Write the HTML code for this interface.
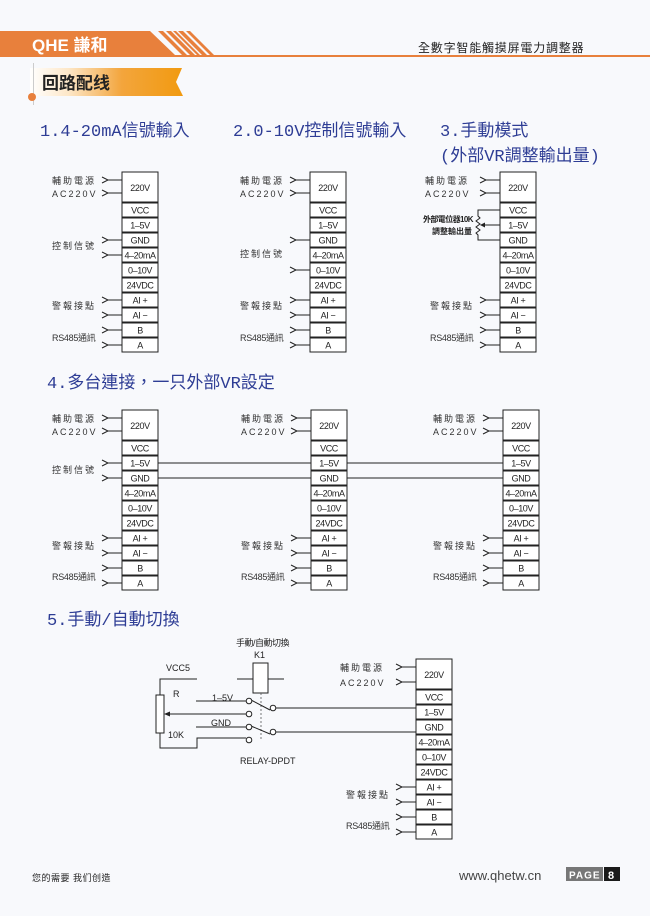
<!DOCTYPE html>
<html><head><meta charset="utf-8">
<style>
html,body{margin:0;padding:0;background:#f8f9fc;}
svg{display:block;}
.t{font-family:"Liberation Sans","Noto Sans CJK TC",sans-serif;}
.b rect{fill:#fff;stroke:#222;stroke-width:1;}
.b text{font-family:"Liberation Sans Narrow","Liberation Sans",sans-serif;font-size:9px;text-anchor:middle;fill:#222;letter-spacing:-0.4px;}
.l{font-family:"Liberation Sans","Noto Sans CJK TC",sans-serif;font-size:9px;fill:#333;letter-spacing:2px;}
.r{font-family:"Liberation Sans","Noto Sans CJK TC",sans-serif;font-size:9px;fill:#333;letter-spacing:-0.3px;}
.w{stroke:#222;stroke-width:1;fill:none;}
.h{font-family:"Liberation Mono","Noto Sans CJK TC",sans-serif;font-size:17px;fill:#2e3d95;}
</style></head><body>
<svg width="650" height="916" viewBox="0 0 650 916" xmlns="http://www.w3.org/2000/svg">
<defs>
<linearGradient id="rg" x1="0" x2="1"><stop offset="0" stop-color="#fff"/><stop offset="0.25" stop-color="#fde7c8"/><stop offset="0.6" stop-color="#f3a53c"/><stop offset="1" stop-color="#f19a10"/></linearGradient>
</defs>
<rect width="650" height="916" fill="#f8f9fc"/>
<polygon points="0,31 150,31 175,55 0,55" fill="#e8803c"/>
<polygon points="158,31 163,31 187,55 182,55" fill="#e8803c"/>
<polygon points="166,31 171,31 195,55 190,55" fill="#e8803c"/>
<polygon points="173,31 176,31 200,55 197,55" fill="#e8803c"/>
<polygon points="178,31 183,31 207,55 202,55" fill="#e8803c"/>
<polygon points="186,31 190,31 214,55 210,55" fill="#e8803c"/>
<rect x="0" y="55" width="650" height="2" fill="#e8803c"/>
<text x="32" y="51" class="t" font-size="17" font-weight="bold" fill="#fff">QHE 謙和</text>
<text x="418" y="52" class="t" font-size="12" fill="#222" letter-spacing="0.8">全數字智能觸摸屏電力調整器</text>
<polygon points="30,68 182,68 176,82 183,96 30,96" fill="url(#rg)"/>
<rect x="33" y="63" width="1" height="42" fill="#ccc"/>
<ellipse cx="32" cy="97" rx="4" ry="4" fill="#e8803c"/>
<text x="42" y="89" class="t" font-size="17" font-weight="bold" fill="#222">回路配线</text>
<text x="40" y="136" class="h">1.4-20mA信號輸入</text>
<text x="233" y="136" class="h">2.0-10V控制信號輸入</text>
<text x="440" y="136" class="h">3.手動模式</text>
<text x="440" y="161" class="h">(外部VR調整輸出量)</text>
<text x="47" y="388" class="h">4.多台連接，一只外部VR設定</text>
<text x="47" y="625" class="h">5.手動/自動切換</text>

<g transform="translate(122,172)">
<g class="b"><rect x="0" y="0" width="36" height="30"/><text x="18" y="19">220V</text>
<rect x="0" y="31" width="36" height="14"/><text x="18" y="41.5">VCC</text>
<rect x="0" y="46" width="36" height="14"/><text x="18" y="56.5">1–5V</text>
<rect x="0" y="61" width="36" height="14"/><text x="18" y="71.5">GND</text>
<rect x="0" y="76" width="36" height="14"/><text x="18" y="86.5">4–20mA</text>
<rect x="0" y="91" width="36" height="14"/><text x="18" y="101.5">0–10V</text>
<rect x="0" y="106" width="36" height="14"/><text x="18" y="116.5">24VDC</text>
<rect x="0" y="121" width="36" height="14"/><text x="18" y="131.5">AI +</text>
<rect x="0" y="136" width="36" height="14"/><text x="18" y="146.5">AI −</text>
<rect x="0" y="151" width="36" height="14"/><text x="18" y="161.5">B</text>
<rect x="0" y="166" width="36" height="14"/><text x="18" y="176.5">A</text></g>
<path class="w" d="M-20 5L-14 8L-20 11M-15 8H0M-20 18L-14 21L-20 24M-15 21H0M-20 65L-14 68L-20 71M-15 68H0M-20 80L-14 83L-20 86M-15 83H0M-20 125L-14 128L-20 131M-15 128H0M-20 140L-14 143L-20 146M-15 143H0M-20 155L-14 158L-20 161M-15 158H0M-20 170L-14 173L-20 176M-15 173H0"/>
<text x="-70" y="12" class="l">輔助電源</text><text x="-70" y="25" class="l">AC220V</text>
<text x="-70" y="77" class="l">控制信號</text><text x="-70" y="137" class="l">警報接點</text>
<text x="-70" y="169" class="r">RS485通訊</text>
</g>

<g transform="translate(310,172)">
<g class="b"><rect x="0" y="0" width="36" height="30"/><text x="18" y="19">220V</text>
<rect x="0" y="31" width="36" height="14"/><text x="18" y="41.5">VCC</text>
<rect x="0" y="46" width="36" height="14"/><text x="18" y="56.5">1–5V</text>
<rect x="0" y="61" width="36" height="14"/><text x="18" y="71.5">GND</text>
<rect x="0" y="76" width="36" height="14"/><text x="18" y="86.5">4–20mA</text>
<rect x="0" y="91" width="36" height="14"/><text x="18" y="101.5">0–10V</text>
<rect x="0" y="106" width="36" height="14"/><text x="18" y="116.5">24VDC</text>
<rect x="0" y="121" width="36" height="14"/><text x="18" y="131.5">AI +</text>
<rect x="0" y="136" width="36" height="14"/><text x="18" y="146.5">AI −</text>
<rect x="0" y="151" width="36" height="14"/><text x="18" y="161.5">B</text>
<rect x="0" y="166" width="36" height="14"/><text x="18" y="176.5">A</text></g>
<path class="w" d="M-20 5L-14 8L-20 11M-15 8H0M-20 18L-14 21L-20 24M-15 21H0M-20 65L-14 68L-20 71M-15 68H0M-20 95L-14 98L-20 101M-15 98H0M-20 125L-14 128L-20 131M-15 128H0M-20 140L-14 143L-20 146M-15 143H0M-20 155L-14 158L-20 161M-15 158H0M-20 170L-14 173L-20 176M-15 173H0"/>
<text x="-70" y="12" class="l">輔助電源</text><text x="-70" y="25" class="l">AC220V</text>
<text x="-70" y="85" class="l">控制信號</text><text x="-70" y="137" class="l">警報接點</text>
<text x="-70" y="169" class="r">RS485通訊</text>
</g>

<g transform="translate(500,172)">
<g class="b"><rect x="0" y="0" width="36" height="30"/><text x="18" y="19">220V</text>
<rect x="0" y="31" width="36" height="14"/><text x="18" y="41.5">VCC</text>
<rect x="0" y="46" width="36" height="14"/><text x="18" y="56.5">1–5V</text>
<rect x="0" y="61" width="36" height="14"/><text x="18" y="71.5">GND</text>
<rect x="0" y="76" width="36" height="14"/><text x="18" y="86.5">4–20mA</text>
<rect x="0" y="91" width="36" height="14"/><text x="18" y="101.5">0–10V</text>
<rect x="0" y="106" width="36" height="14"/><text x="18" y="116.5">24VDC</text>
<rect x="0" y="121" width="36" height="14"/><text x="18" y="131.5">AI +</text>
<rect x="0" y="136" width="36" height="14"/><text x="18" y="146.5">AI −</text>
<rect x="0" y="151" width="36" height="14"/><text x="18" y="161.5">B</text>
<rect x="0" y="166" width="36" height="14"/><text x="18" y="176.5">A</text></g>
<path class="w" d="M-20 5L-14 8L-20 11M-15 8H0M-20 18L-14 21L-20 24M-15 21H0M-20 125L-14 128L-20 131M-15 128H0M-20 140L-14 143L-20 146M-15 143H0M-20 155L-14 158L-20 161M-15 158H0M-20 170L-14 173L-20 176M-15 173H0"/>
<path class="w" d="M0 38H-22V44L-20 46L-24 49L-20 52L-24 55L-20 58L-24 61L-22 63V68H0M0 53H-18"/>
<path d="M-20 53L-15 50.5L-15 55.5Z" fill="#222"/>
<text x="-75" y="12" class="l">輔助電源</text><text x="-75" y="25" class="l">AC220V</text>
<text x="-77" y="50" class="t" font-size="8" fill="#222" font-weight="bold" style="letter-spacing:-0.6px">外部電位器10K</text>
<text x="-68" y="62" class="t" font-size="8" fill="#222" font-weight="bold">調整輸出量</text>
<text x="-70" y="137" class="l">警報接點</text>
<text x="-70" y="169" class="r">RS485通訊</text>
</g>

<g transform="translate(122,410)">
<g class="b"><rect x="0" y="0" width="36" height="30"/><text x="18" y="19">220V</text>
<rect x="0" y="31" width="36" height="14"/><text x="18" y="41.5">VCC</text>
<rect x="0" y="46" width="36" height="14"/><text x="18" y="56.5">1–5V</text>
<rect x="0" y="61" width="36" height="14"/><text x="18" y="71.5">GND</text>
<rect x="0" y="76" width="36" height="14"/><text x="18" y="86.5">4–20mA</text>
<rect x="0" y="91" width="36" height="14"/><text x="18" y="101.5">0–10V</text>
<rect x="0" y="106" width="36" height="14"/><text x="18" y="116.5">24VDC</text>
<rect x="0" y="121" width="36" height="14"/><text x="18" y="131.5">AI +</text>
<rect x="0" y="136" width="36" height="14"/><text x="18" y="146.5">AI −</text>
<rect x="0" y="151" width="36" height="14"/><text x="18" y="161.5">B</text>
<rect x="0" y="166" width="36" height="14"/><text x="18" y="176.5">A</text></g>
<path class="w" d="M-20 5L-14 8L-20 11M-15 8H0M-20 18L-14 21L-20 24M-15 21H0M-20 50L-14 53L-20 56M-15 53H0M-20 65L-14 68L-20 71M-15 68H0M-20 125L-14 128L-20 131M-15 128H0M-20 140L-14 143L-20 146M-15 143H0M-20 155L-14 158L-20 161M-15 158H0M-20 170L-14 173L-20 176M-15 173H0"/>
<text x="-70" y="12" class="l">輔助電源</text><text x="-70" y="25" class="l">AC220V</text>
<text x="-70" y="63" class="l">控制信號</text><text x="-70" y="139" class="l">警報接點</text>
<text x="-70" y="170" class="r">RS485通訊</text>
</g>
<g transform="translate(311,410)">
<g class="b"><rect x="0" y="0" width="36" height="30"/><text x="18" y="19">220V</text>
<rect x="0" y="31" width="36" height="14"/><text x="18" y="41.5">VCC</text>
<rect x="0" y="46" width="36" height="14"/><text x="18" y="56.5">1–5V</text>
<rect x="0" y="61" width="36" height="14"/><text x="18" y="71.5">GND</text>
<rect x="0" y="76" width="36" height="14"/><text x="18" y="86.5">4–20mA</text>
<rect x="0" y="91" width="36" height="14"/><text x="18" y="101.5">0–10V</text>
<rect x="0" y="106" width="36" height="14"/><text x="18" y="116.5">24VDC</text>
<rect x="0" y="121" width="36" height="14"/><text x="18" y="131.5">AI +</text>
<rect x="0" y="136" width="36" height="14"/><text x="18" y="146.5">AI −</text>
<rect x="0" y="151" width="36" height="14"/><text x="18" y="161.5">B</text>
<rect x="0" y="166" width="36" height="14"/><text x="18" y="176.5">A</text></g>
<path class="w" d="M-20 5L-14 8L-20 11M-15 8H0M-20 18L-14 21L-20 24M-15 21H0M-20 125L-14 128L-20 131M-15 128H0M-20 140L-14 143L-20 146M-15 143H0M-20 155L-14 158L-20 161M-15 158H0M-20 170L-14 173L-20 176M-15 173H0"/>
<text x="-70" y="12" class="l">輔助電源</text><text x="-70" y="25" class="l">AC220V</text>
<text x="-70" y="139" class="l">警報接點</text>
<text x="-70" y="170" class="r">RS485通訊</text>
</g>
<g transform="translate(503,410)">
<g class="b"><rect x="0" y="0" width="36" height="30"/><text x="18" y="19">220V</text>
<rect x="0" y="31" width="36" height="14"/><text x="18" y="41.5">VCC</text>
<rect x="0" y="46" width="36" height="14"/><text x="18" y="56.5">1–5V</text>
<rect x="0" y="61" width="36" height="14"/><text x="18" y="71.5">GND</text>
<rect x="0" y="76" width="36" height="14"/><text x="18" y="86.5">4–20mA</text>
<rect x="0" y="91" width="36" height="14"/><text x="18" y="101.5">0–10V</text>
<rect x="0" y="106" width="36" height="14"/><text x="18" y="116.5">24VDC</text>
<rect x="0" y="121" width="36" height="14"/><text x="18" y="131.5">AI +</text>
<rect x="0" y="136" width="36" height="14"/><text x="18" y="146.5">AI −</text>
<rect x="0" y="151" width="36" height="14"/><text x="18" y="161.5">B</text>
<rect x="0" y="166" width="36" height="14"/><text x="18" y="176.5">A</text></g>
<path class="w" d="M-20 5L-14 8L-20 11M-15 8H0M-20 18L-14 21L-20 24M-15 21H0M-20 125L-14 128L-20 131M-15 128H0M-20 140L-14 143L-20 146M-15 143H0M-20 155L-14 158L-20 161M-15 158H0M-20 170L-14 173L-20 176M-15 173H0"/>
<text x="-70" y="12" class="l">輔助電源</text><text x="-70" y="25" class="l">AC220V</text>
<text x="-70" y="139" class="l">警報接點</text>
<text x="-70" y="170" class="r">RS485通訊</text>
</g>
<path class="w" d="M158 463H311M158 478H311M347 463H503M347 478H503"/>

<g transform="translate(416,659)">
<g class="b"><rect x="0" y="0" width="36" height="30"/><text x="18" y="19">220V</text>
<rect x="0" y="31" width="36" height="14"/><text x="18" y="41.5">VCC</text>
<rect x="0" y="46" width="36" height="14"/><text x="18" y="56.5">1–5V</text>
<rect x="0" y="61" width="36" height="14"/><text x="18" y="71.5">GND</text>
<rect x="0" y="76" width="36" height="14"/><text x="18" y="86.5">4–20mA</text>
<rect x="0" y="91" width="36" height="14"/><text x="18" y="101.5">0–10V</text>
<rect x="0" y="106" width="36" height="14"/><text x="18" y="116.5">24VDC</text>
<rect x="0" y="121" width="36" height="14"/><text x="18" y="131.5">AI +</text>
<rect x="0" y="136" width="36" height="14"/><text x="18" y="146.5">AI −</text>
<rect x="0" y="151" width="36" height="14"/><text x="18" y="161.5">B</text>
<rect x="0" y="166" width="36" height="14"/><text x="18" y="176.5">A</text></g>
<path class="w" d="M-20 5L-14 8L-20 11M-15 8H0M-20 20L-14 23L-20 26M-15 23H0M-20 125L-14 128L-20 131M-15 128H0M-20 140L-14 143L-20 146M-15 143H0M-20 155L-14 158L-20 161M-15 158H0M-20 170L-14 173L-20 176M-15 173H0"/>
<text x="-76" y="12" class="l">輔助電源</text><text x="-76" y="27" class="l">AC220V</text>
<text x="-70" y="139" class="l">警報接點</text>
<text x="-70" y="170" class="r">RS485通訊</text>
</g>
<text x="236" y="646" class="t" font-size="9" fill="#222" style="letter-spacing:-0.5px">手動/自動切換</text>
<text x="254" y="658" class="t" font-size="9" fill="#222">K1</text>
<rect x="253" y="663" width="15" height="30" fill="#fff" stroke="#222"/>
<path class="w" d="M237 679H253M268 679H284"/>
<path d="M261 693V740" stroke="#555" stroke-width="0.8" stroke-dasharray="2,2"/>
<text x="166" y="671" class="t" font-size="9" fill="#222">VCC5</text>
<text x="173" y="697" class="t" font-size="9" fill="#222">R</text>
<text x="168" y="738" class="t" font-size="9" fill="#222">10K</text>
<text x="212" y="701" class="t" font-size="9" fill="#222">1–5V</text>
<text x="211" y="726" class="t" font-size="9" fill="#222">GND</text>
<text x="240" y="764" class="t" font-size="9" fill="#222">RELAY-DPDT</text>
<rect x="156" y="695" width="8" height="38" fill="#fff" stroke="#222"/>
<path class="w" d="M160 695V679H197M160 733V748H197V738H246M196 701H246M196 727H246M246 714H166"/>
<path d="M164 714L170 711.5L170 716.5Z" fill="#222"/>
<path class="w" d="M251 700L270 710M251 726L270 734M276 708H416M276 732H416"/>
<g fill="#fff" stroke="#222"><circle cx="249" cy="701" r="2.8"/><circle cx="249" cy="714" r="2.8"/><circle cx="249" cy="727" r="2.8"/><circle cx="249" cy="740" r="2.8"/><circle cx="273" cy="708" r="2.8"/><circle cx="273" cy="732" r="2.8"/></g>

<text x="32" y="881" class="t" font-size="9" fill="#222" letter-spacing="0.5">您的需要 我们创造</text>
<text x="459" y="880" class="t" font-size="13" fill="#444">www.qhetw.cn</text>
<rect x="566" y="867" width="37" height="14" fill="#777"/>
<text x="569" y="878.5" class="t" font-size="10" font-weight="bold" fill="#fff" letter-spacing="1">PAGE</text>
<rect x="604" y="867" width="16" height="14" fill="#1a1a1a"/>
<text x="608" y="879" class="t" font-size="11" font-weight="bold" fill="#fff">8</text>
</svg>
</body></html>
